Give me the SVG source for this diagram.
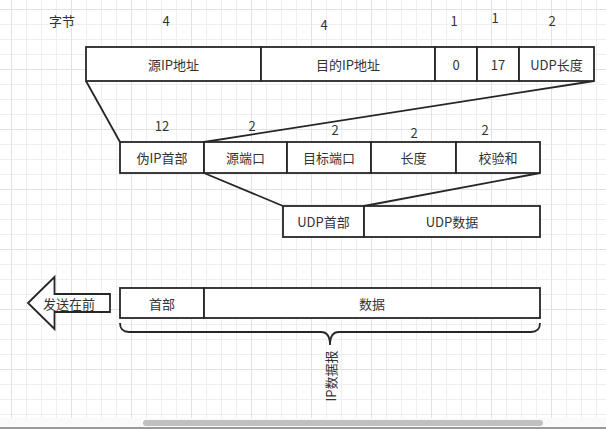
<svg xmlns="http://www.w3.org/2000/svg" width="606" height="429" viewBox="0 0 606 429">
  <defs>
    <pattern id="grid" patternUnits="userSpaceOnUse" x="11" y="9" width="60" height="60">
      <rect x="0" y="0" width="60" height="60" fill="#ffffff"/>
      <rect x="15" y="0" width="1" height="60" fill="#efefef"/>
      <rect x="30" y="0" width="1" height="60" fill="#efefef"/>
      <rect x="45" y="0" width="1" height="60" fill="#efefef"/>
      <rect x="0" y="15" width="60" height="1" fill="#efefef"/>
      <rect x="0" y="30" width="60" height="1" fill="#efefef"/>
      <rect x="0" y="45" width="60" height="1" fill="#efefef"/>
      <rect x="0" y="0" width="1" height="60" fill="#e2e2e2"/>
      <rect x="0" y="0" width="60" height="1" fill="#e2e2e2"/>
    </pattern>
  </defs>
  <style>
    .box { fill: #ffffff; stroke: #262626; stroke-width: 1.8; }
    .ln { fill: none; stroke: #262626; stroke-width: 1.8; }
    text { font-family: "Noto Sans CJK SC", "Liberation Sans", sans-serif; font-size: 13px; fill: #333333; text-anchor: middle; dominant-baseline: central; }
  </style>

  <rect x="0" y="0" width="606" height="418" fill="url(#grid)"/>
  <rect x="0" y="418" width="606" height="9" fill="#fafafa"/>
  <rect x="143" y="420" width="400" height="6" rx="3" fill="#c0c0c0"/>
  <rect x="0" y="427" width="606" height="2" fill="#9a9a9a"/>

  <g id="connectors">
    <line class="ln" x1="86" y1="81" x2="120" y2="142"/>
    <line class="ln" x1="594" y1="81" x2="204" y2="142"/>
    <line class="ln" x1="204" y1="173" x2="283" y2="206"/>
    <line class="ln" x1="540" y1="173" x2="364" y2="206"/>
  </g>

  <g id="labels-bytes">
    <text x="62" y="20">字节</text>
    <text x="166" y="20">4</text>
    <text x="324" y="24">4</text>
    <text x="454" y="20">1</text>
    <text x="495" y="17">1</text>
    <text x="552" y="20">2</text>
    <text x="162" y="125">12</text>
    <text x="252" y="125">2</text>
    <text x="335" y="129">2</text>
    <text x="414" y="132">2</text>
    <text x="485" y="129">2</text>
  </g>

  <g id="src-ip"><rect class="box" x="86" y="47" width="175" height="34"/><text x="173.5" y="64">源IP地址</text></g>
  <g id="dst-ip"><rect class="box" x="261" y="47" width="174" height="34"/><text x="348" y="64">目的IP地址</text></g>
  <g id="zero"><rect class="box" x="435" y="47" width="42" height="34"/><text x="456" y="64">0</text></g>
  <g id="proto"><rect class="box" x="477" y="47" width="42" height="34"/><text x="498" y="64">17</text></g>
  <g id="udp-len"><rect class="box" x="519" y="47" width="75" height="34"/><text x="556.5" y="64">UDP长度</text></g>

  <g id="pseudo-hdr"><rect class="box" x="120" y="142" width="84" height="31"/><text x="162" y="157.5">伪IP首部</text></g>
  <g id="src-port"><rect class="box" x="204" y="142" width="83" height="31"/><text x="245.5" y="157.5">源端口</text></g>
  <g id="dst-port"><rect class="box" x="287" y="142" width="84" height="31"/><text x="329" y="157.5">目标端口</text></g>
  <g id="length"><rect class="box" x="371" y="142" width="85" height="31"/><text x="413.5" y="157.5">长度</text></g>
  <g id="checksum"><rect class="box" x="456" y="142" width="84" height="31"/><text x="498" y="157.5">校验和</text></g>

  <g id="udp-hdr"><rect class="box" x="283" y="206" width="81" height="31"/><text x="323.5" y="221.5">UDP首部</text></g>
  <g id="udp-data"><rect class="box" x="364" y="206" width="176" height="31"/><text x="452" y="221.5">UDP数据</text></g>

  <g id="ip-hdr"><rect class="box" x="120" y="288" width="84" height="30"/><text x="162" y="303">首部</text></g>
  <g id="ip-data"><rect class="box" x="204" y="288" width="336" height="30"/><text x="372" y="303">数据</text></g>

  <g id="send-first">
    <path class="box" d="M28,303 L54.5,277 L54.5,294 L110,294 L110,312 L54.5,312 L54.5,329 Z"/>
    <text x="69" y="303">发送在前</text>
  </g>

  <g id="ip-datagram">
    <path class="ln" d="M120,323 Q120,332 129,332 L321,332 Q330,332 330,345 Q330,332 339,332 L531,332 Q540,332 540,323"/>
    <text x="0" y="0" transform="translate(330,376) rotate(-90)">IP数据报</text>
  </g>
</svg>
